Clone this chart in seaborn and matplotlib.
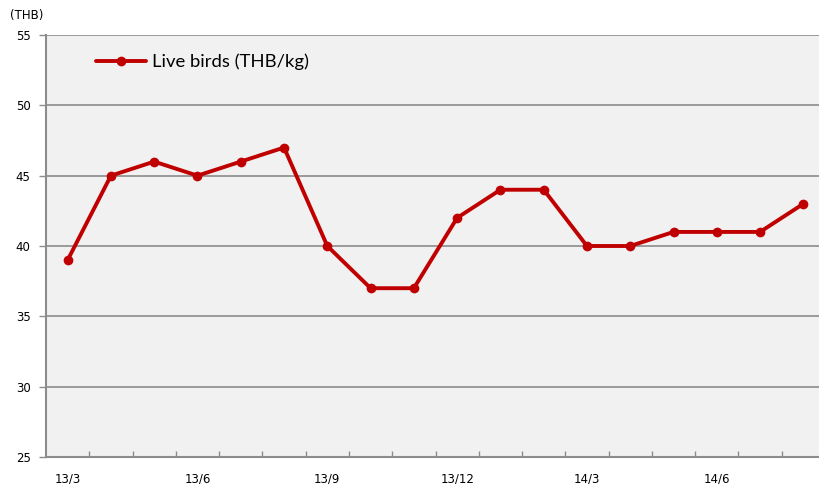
import matplotlib
matplotlib.use("Agg")
import matplotlib.pyplot as plt
import seaborn as sns
import pandas as pd
import numpy as np

months = ["13/3", "13/4", "13/5", "13/6", "13/7", "13/8", "13/9", "13/10", "13/11",
          "13/12", "14/1", "14/2", "14/3", "14/4", "14/5", "14/6", "14/7", "14/8"]
prices = [39, 45, 46, 45, 46, 47, 40, 37, 37, 42, 44, 44, 40, 40, 41, 41, 41, 43]
shown_labels = ["13/3", "13/6", "13/9", "13/12", "14/3", "14/6"]
series_name = "Live birds (THB/kg)"

sns.set_theme(style="white")
plt.rcParams['font.family'] = ['DejaVu Sans']
plt.rcParams['text.color'] = 'black'
plt.rcParams['xtick.color'] = 'black'
plt.rcParams['ytick.color'] = 'black'

df = pd.DataFrame({"idx": np.arange(len(months)), "price": prices, "series": series_name})

fig = plt.figure(figsize=(8.19, 4.84), dpi=100)
ax = fig.add_axes([46/819, (484-457)/484, 779/819, (457-35)/484])
ax.set_facecolor("#f1f1f1")

sns.lineplot(data=df, x="idx", y="price", hue="series", palette=["#c00000"],
             marker="o", markersize=7, markeredgewidth=0, linewidth=2.8, ax=ax)

ax.set_xlim(-0.5, len(months) - 0.5)
ax.set_ylim(25, 55)
ax.set_yticks(range(25, 56, 5))
ax.yaxis.grid(True, color="#8c8c8c", linewidth=1.2)
ax.set_axisbelow(True)

ax.set_xticks([months.index(m) for m in shown_labels])
ax.set_xticklabels(shown_labels, fontsize=8.5)
ax.set_xticks(np.arange(0.5, len(months) - 0.5, 1), minor=True)
ax.tick_params(axis="x", which="major", length=0, pad=11, labelcolor="black")
ax.tick_params(axis="x", which="minor", direction="in", length=4, width=1, color="#8c8c8c", bottom=True)
ax.tick_params(axis="y", which="major", length=5, width=1, color="#8c8c8c", left=True,
               labelsize=8.5, pad=6, labelcolor="black")

for s in ["top", "right"]:
    ax.spines[s].set_visible(False)
for s in ["left", "bottom"]:
    ax.spines[s].set_color("#8c8c8c")
    ax.spines[s].set_linewidth(1.5)

ax.set_xlabel("")
ax.set_ylabel("")
leg = ax.legend(loc="upper left", bbox_to_anchor=(0.043, 0.995), frameon=False,
                prop={"family": ["Lato", "DejaVu Sans"], "size": 13.3},
                handlelength=2.7, handletextpad=0.3)
fig.text(10/819, 1 - 16/484, "(THB)", fontsize=8.5, va="center", ha="left")

fig.savefig("out.png", dpi=100)
